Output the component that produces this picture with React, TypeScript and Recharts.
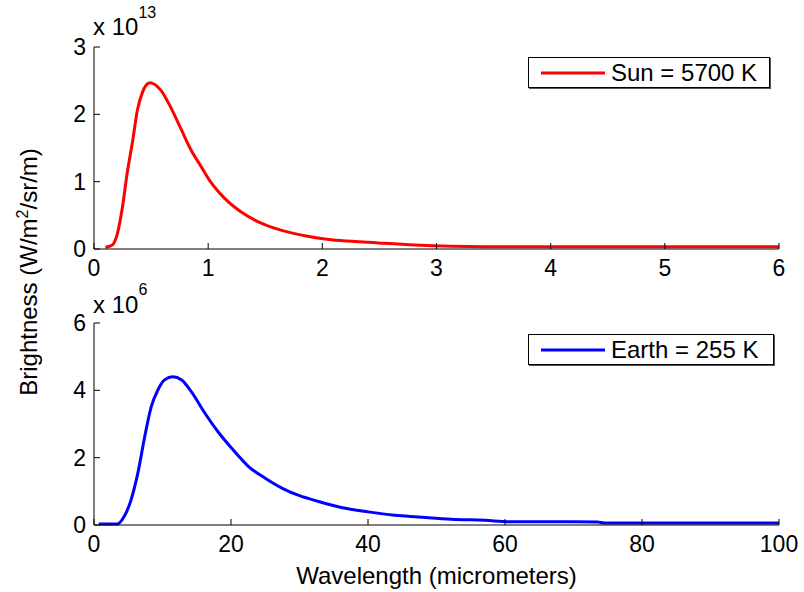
import React from "react";
import { LineChart, Line, XAxis, YAxis, Legend } from "recharts";

// Sun = 5700 K (wavelength in micrometers, brightness in 1e13 W/m^2/sr/m)
const sunWavelength = [0.1, 0.16, 0.205, 0.25, 0.29, 0.34, 0.38, 0.425, 0.455, 0.49, 0.526, 0.585, 0.67, 0.76, 0.85, 0.94, 1.02, 1.14, 1.29, 1.43, 1.58, 1.73, 1.87, 2.02, 2.16, 2.49, 2.81, 3.42, 4.0, 5.0, 6.0];
const sunBrightness = [0.025, 0.06, 0.23, 0.63, 1.12, 1.62, 2.06, 2.33, 2.43, 2.47, 2.45, 2.36, 2.11, 1.79, 1.47, 1.22, 1.0, 0.76, 0.55, 0.41, 0.31, 0.24, 0.19, 0.15, 0.125, 0.09, 0.06, 0.035, 0.035, 0.035, 0.035];

// Earth = 255 K (wavelength in micrometers, brightness in 1e6 W/m^2/sr/m)
const earthWavelength = [0.7, 3.4, 4.4, 5.4, 6.4, 7.4, 8.35, 9.3, 10.3, 11.5, 12.8, 14.2, 16.2, 18.1, 20.1, 22.6, 25.0, 27.5, 30.0, 32.6, 36.1, 40.0, 43.9, 47.3, 52.2, 57.1, 60.5, 73.5, 74.5, 100];
const earthBrightness = [0.03, 0.03, 0.25, 0.74, 1.54, 2.62, 3.51, 4.0, 4.31, 4.4, 4.31, 3.96, 3.32, 2.77, 2.28, 1.73, 1.39, 1.09, 0.87, 0.71, 0.52, 0.39, 0.29, 0.24, 0.17, 0.14, 0.1, 0.09, 0.06, 0.06];

const sunTicksX = [0, 1, 2, 3, 4, 5, 6];
const sunTicksY = [0, 1, 2, 3];
const earthTicksX = [0, 20, 40, 60, 80, 100];
const earthTicksY = [0, 2, 4, 6];

const sunData = sunWavelength.map((x, i) => ({ x, y: sunBrightness[i] }));
const earthData = earthWavelength.map((x, i) => ({ x, y: earthBrightness[i] }));

const FONT = "'Liberation Sans', Arial, Helvetica, sans-serif";
const tickStyle = { fontSize: 23, fill: "#000", fontFamily: FONT };
const axisLine = { stroke: "#000", strokeWidth: 1 };

function LegendBox({ color, label, width }: { color: string; label: string; width: number }) {
  return (
    <div
      style={{
        width,
        height: 31,
        border: "1px solid #000",
        boxShadow: "1px 1px 0 #555",
        background: "#fff",
        display: "flex",
        alignItems: "center",
        fontFamily: FONT,
        fontSize: 24,
        lineHeight: "24px",
        color: "#000",
        boxSizing: "border-box",
      }}
    >
      <svg width={82} height={10} style={{ flex: "none" }}>
        <line x1={12} x2={76} y1={5} y2={5} stroke={color} strokeWidth={3} />
      </svg>
      <span style={{ whiteSpace: "nowrap" }}>{label}</span>
    </div>
  );
}

function Panel({
  data, xDomain, xTicks, yDomain, yTicks, color, label, legendWidth, legendTop, height, margin, xLabel,
}: any) {
  return (
    <LineChart width={804} height={height} data={data} margin={margin}>
      <XAxis
        dataKey="x"
        type="number"
        domain={xDomain}
        ticks={xTicks}
        interval={0}
        tick={tickStyle}
        tickSize={-6}
        tickMargin={17}
        axisLine={axisLine}
        tickLine={{ stroke: "#000" }}
        height={xLabel ? 60 : 30}
        label={xLabel ? { value: xLabel, position: "insideBottom", offset: 1, style: { fontSize: 24, fill: "#000", fontFamily: FONT } } : undefined}
      />
      <XAxis
        xAxisId="top"
        orientation="top"
        type="number"
        domain={xDomain}
        ticks={xTicks}
        interval={0}
        mirror
        tick={false}
        tickSize={6}
        height={0}
        axisLine={axisLine}
        tickLine={{ stroke: "#000" }}
      />
      <YAxis
        type="number"
        domain={yDomain}
        ticks={yTicks}
        interval={0}
        tick={tickStyle}
        tickSize={-6}
        tickMargin={14}
        width={60}
        axisLine={axisLine}
        tickLine={{ stroke: "#000" }}
      />
      <YAxis
        yAxisId="right"
        orientation="right"
        type="number"
        domain={yDomain}
        ticks={yTicks}
        interval={0}
        mirror
        tick={false}
        tickSize={6}
        width={0}
        axisLine={axisLine}
        tickLine={{ stroke: "#000" }}
      />
      <Legend
        layout="vertical"
        align="center"
        verticalAlign="middle"
        content={() => <LegendBox color={color} label={label} width={legendWidth} />}
        wrapperStyle={{ left: 528, top: legendTop, width: "auto", height: "auto" }}
      />
      <Line
        type="monotone"
        dataKey="y"
        stroke={color}
        strokeWidth={3}
        dot={false}
        isAnimationActive={false}
      />
    </LineChart>
  );
}

export default function App() {
  return (
    <div style={{ position: "absolute", left: 0, top: 0, width: 804, height: 592, background: "#fff", fontFamily: FONT }}>
      <div style={{ position: "absolute", left: 0, top: 0 }}>
        <Panel
          data={sunData}
          xDomain={[0, 6]}
          xTicks={sunTicksX}
          yDomain={[0, 3]}
          yTicks={sunTicksY}
          color="#ff0000"
          label="Sun = 5700 K"
          legendWidth={242}
          legendTop={57}
          height={280}
          margin={{ top: 47, right: 25, left: 34, bottom: 1 }}
        />
      </div>
      <div style={{ position: "absolute", left: 0, top: 280 }}>
        <Panel
          data={earthData}
          xDomain={[0, 100]}
          xTicks={earthTicksX}
          yDomain={[0, 6]}
          yTicks={earthTicksY}
          color="#0000ff"
          label="Earth = 255 K"
          legendWidth={246}
          legendTop={54}
          height={312}
          margin={{ top: 43, right: 25, left: 34, bottom: 7 }}
          xLabel="Wavelength (micrometers)"
        />
      </div>
      {/* exponent multipliers */}
      <div style={{ position: "absolute", left: 93, top: 15, fontSize: 24, whiteSpace: "nowrap", lineHeight: "24px" }}>
        x 10<span style={{ position: "relative", top: -17, fontSize: 16 }}>13</span>
      </div>
      <div style={{ position: "absolute", left: 93, top: 293, fontSize: 24, whiteSpace: "nowrap", lineHeight: "24px" }}>
        x 10<span style={{ position: "relative", top: -18, fontSize: 16 }}>6</span>
      </div>
      {/* shared y label */}
      <div
        style={{
          position: "absolute",
          left: 30,
          top: 272,
          transform: "translate(-50%, -50%) rotate(-90deg)",
          fontSize: 24,
          whiteSpace: "nowrap",
          lineHeight: "24px",
        }}
      >
        Brightness (W/m<span style={{ position: "relative", top: -9, fontSize: 16 }}>2</span>/sr/m)
      </div>
    </div>
  );
}
